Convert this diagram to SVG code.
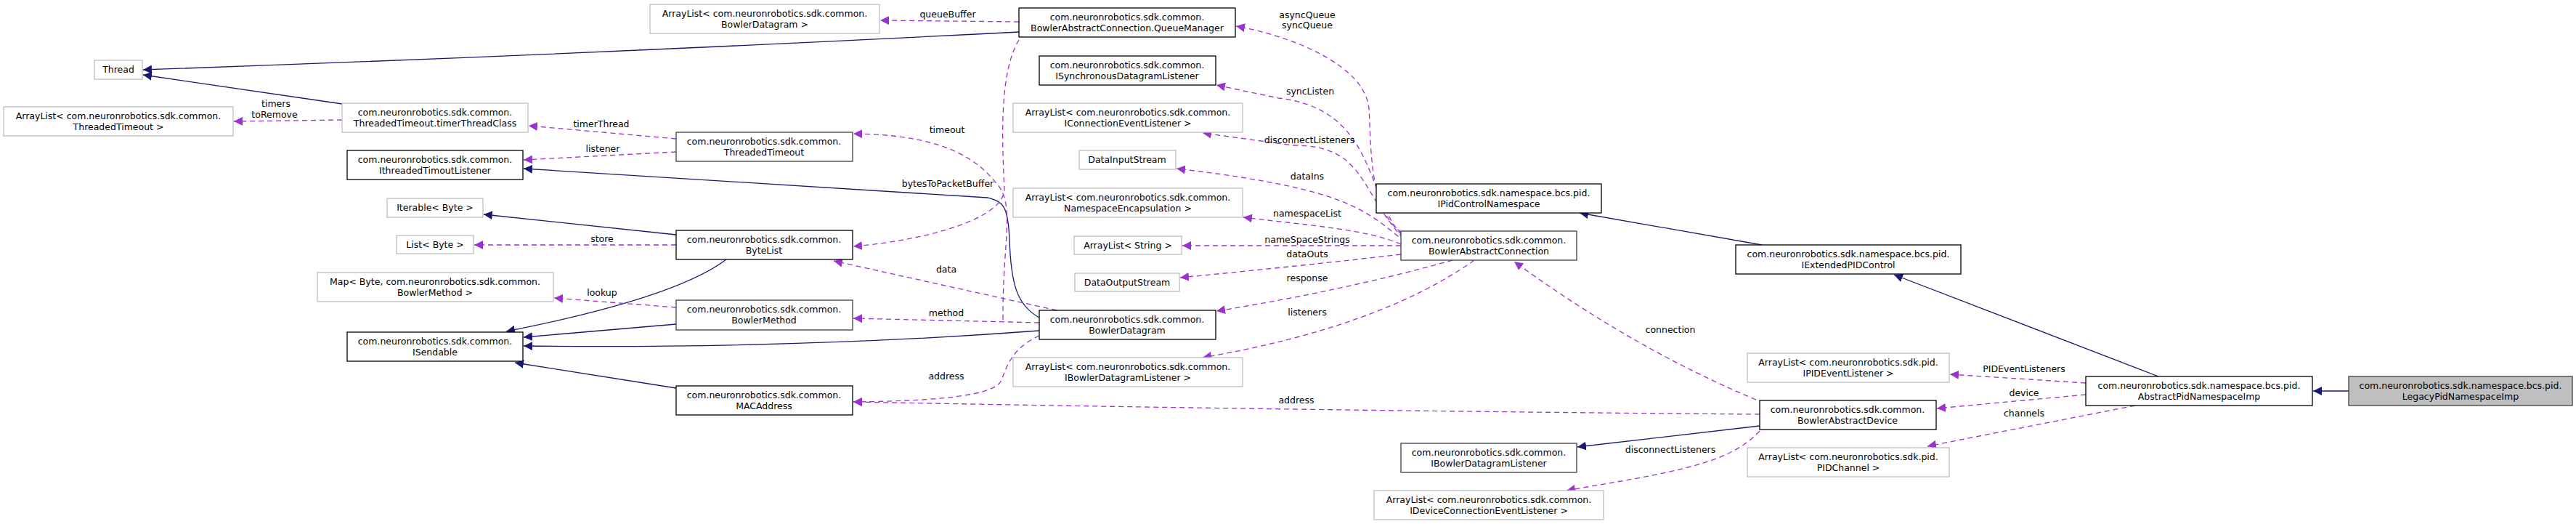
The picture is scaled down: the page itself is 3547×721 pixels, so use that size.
<svg xmlns="http://www.w3.org/2000/svg" width="3547" height="721" viewBox="0 0 3547 721">
<style>
text{font-family:"DejaVu Sans","Liberation Sans",sans-serif;font-size:12.5px;fill:#000;text-anchor:middle}
.n rect{fill:#fff;stroke:#000;stroke-width:1.3}
.n.d rect{stroke:#404040}
.n.x rect{stroke:#bfbfbf}
.n.me rect{fill:#bfbfbf;stroke:#404040}
.i{fill:none;stroke:#191970;stroke-width:1.3}
.u{fill:none;stroke:#9a32cd;stroke-width:1.3;stroke-dasharray:7,5}
</style>
<defs>
<marker id="ai" viewBox="0 0 10 10" refX="10" refY="5" markerWidth="12" markerHeight="12" markerUnits="userSpaceOnUse" orient="auto"><path d="M0,0L10,5L0,10z" fill="#191970"/></marker>
<marker id="au" viewBox="0 0 10 10" refX="10" refY="5" markerWidth="12" markerHeight="12" markerUnits="userSpaceOnUse" orient="auto"><path d="M0,0L10,5L0,10z" fill="#9a32cd"/></marker>
</defs>
<rect width="3547" height="721" fill="#fff"/>
<g id="connectors">
<path class="i" marker-end="url(#ai)" d="M1403,44 Q800,75 197,96"/>
<path class="i" marker-end="url(#ai)" d="M471,143 L197,103"/>
<path class="i" marker-end="url(#ai)" d="M1431,437 C1400,420 1392,390 1390,330 C1388,280 1380,278 1360,272 L721,232"/>
<path class="i" marker-end="url(#ai)" d="M931,323 L666,295"/>
<path class="i" marker-end="url(#ai)" d="M1000,357 Q930,410 697,456"/>
<path class="i" marker-end="url(#ai)" d="M931,446 L721,464"/>
<path class="i" marker-end="url(#ai)" d="M1431,455 Q1100,480 721,476"/>
<path class="i" marker-end="url(#ai)" d="M931,534 L709,499"/>
<path class="i" marker-end="url(#ai)" d="M2972,518 L2608,378"/>
<path class="i" marker-end="url(#ai)" d="M2426,337 L2175,293"/>
<path class="i" marker-end="url(#ai)" d="M2423,586 L2172,615"/>
<path class="i" style="stroke:#5050a0;stroke-width:2" marker-end="url(#ai)" d="M3234,538 L3185,538"/>
<path class="u" marker-end="url(#au)" d="M1403,30 L1212,28"/>
<path class="u" marker-end="url(#au)" d="M471,165 L322,167"/>
<path class="u" marker-end="url(#au)" d="M931,191 L728,173"/>
<path class="u" marker-end="url(#au)" d="M931,209 L721,220"/>
<path class="u" marker-end="url(#au)" d="M931,337 L653,337"/>
<path class="u" marker-end="url(#au)" d="M931,423 L763,410"/>
<path class="u" marker-end="url(#au)" d="M1455,427 L1148,359"/>
<path class="u" marker-end="url(#au)" d="M1431,444 L1175,438"/>
<path class="u" marker-end="url(#au)" d="M1431,462 C1390,480 1385,510 1378,525 C1365,548 1260,552 1175,553"/>
<path class="u" marker-end="url(#au)" d="M2423,570 Q1800,565 1175,553"/>
<path class="u" marker-end="url(#au)" d="M1381,440 C1380,330 1400,280 1370,250 C1330,200 1260,185 1175,184"/>
<path class="u" marker-end="url(#au)" d="M1403,55 C1375,100 1380,200 1383,260 C1383,300 1280,330 1175,339"/>
<path class="u" marker-end="url(#au)" d="M1930,320 C1885,290 1888,200 1885,150 C1880,90 1780,50 1702,36"/>
<path class="u" marker-end="url(#au)" d="M1930,323 C1880,270 1895,150 1760,135 L1675,117"/>
<path class="u" marker-end="url(#au)" d="M1932,328 C1870,260 1880,200 1780,200 L1656,183"/>
<path class="u" marker-end="url(#au)" d="M1935,333 C1880,290 1860,260 1620,232"/>
<path class="u" marker-end="url(#au)" d="M1929,336 C1880,315 1800,310 1712,299"/>
<path class="u" marker-end="url(#au)" d="M1929,338 L1628,338"/>
<path class="u" marker-end="url(#au)" d="M1929,350 Q1800,365 1625,382"/>
<path class="u" marker-end="url(#au)" d="M2000,358 Q1850,400 1675,428"/>
<path class="u" marker-end="url(#au)" d="M2030,358 Q1900,450 1656,492"/>
<path class="u" marker-end="url(#au)" d="M2418,550 Q2250,480 2085,360"/>
<path class="u" marker-end="url(#au)" d="M2423,593 C2380,640 2300,650 2157,675"/>
<path class="u" marker-end="url(#au)" d="M2872,527 L2685,515"/>
<path class="u" marker-end="url(#au)" d="M2872,543 L2667,562"/>
<path class="u" marker-end="url(#au)" d="M2940,558 L2654,614"/>
</g>
<g id="edge-labels">
<text x="1305" y="24">queueBuffer</text>
<text x="380" y="147">timers</text>
<text x="378" y="162">toRemove</text>
<text x="828" y="175">timerThread</text>
<text x="830" y="209">listener</text>
<text x="829" y="333">store</text>
<text x="829" y="407">lookup</text>
<text x="1303" y="375">data</text>
<text x="1303" y="435">method</text>
<text x="1303" y="522">address</text>
<text x="1785" y="555">address</text>
<text x="1304" y="183">timeout</text>
<text x="1305" y="257">bytesToPacketBuffer</text>
<text x="1800" y="25">asyncQueue</text>
<text x="1800" y="39">syncQueue</text>
<text x="1804" y="130">syncListen</text>
<text x="1803" y="197">disconnectListeners</text>
<text x="1800" y="247">dataIns</text>
<text x="1800" y="298">namespaceList</text>
<text x="1800" y="334">nameSpaceStrings</text>
<text x="1800" y="354">dataOuts</text>
<text x="1800" y="387">response</text>
<text x="1800" y="434">listeners</text>
<text x="2300" y="458">connection</text>
<text x="2300" y="623">disconnectListeners</text>
<text x="2787" y="512">PIDEventListeners</text>
<text x="2787" y="545">device</text>
<text x="2787" y="573">channels</text>
</g>
<g id="n-thread" class="n x"><rect x="130" y="83" width="66" height="26"/><text x="163" y="100">Thread</text></g>
<g id="n-al-tt" class="n x"><rect x="5" y="147" width="316" height="40"/><text x="163" y="164">ArrayList&lt; com.neuronrobotics.sdk.common.</text><text x="163" y="179">ThreadedTimeout &gt;</text></g>
<g id="n-ttc" class="n x"><rect x="471" y="142" width="256" height="40"/><text x="599" y="159">com.neuronrobotics.sdk.common.</text><text x="599" y="174">ThreadedTimeout.timerThreadClass</text></g>
<g id="n-itl" class="n"><rect x="478" y="207" width="242" height="40"/><text x="599" y="224">com.neuronrobotics.sdk.common.</text><text x="599" y="239">IthreadedTimoutListener</text></g>
<g id="n-iter" class="n x"><rect x="533" y="273" width="132" height="26"/><text x="599" y="290">Iterable&lt; Byte &gt;</text></g>
<g id="n-list" class="n x"><rect x="546" y="324" width="106" height="25"/><text x="599" y="341">List&lt; Byte &gt;</text></g>
<g id="n-map" class="n x"><rect x="437" y="375" width="325" height="40"/><text x="599" y="392">Map&lt; Byte, com.neuronrobotics.sdk.common.</text><text x="599" y="407">BowlerMethod &gt;</text></g>
<g id="n-isend" class="n"><rect x="478" y="457" width="242" height="40"/><text x="599" y="474">com.neuronrobotics.sdk.common.</text><text x="599" y="489">ISendable</text></g>
<g id="n-tt" class="n d"><rect x="931" y="182" width="243" height="40"/><text x="1052" y="199">com.neuronrobotics.sdk.common.</text><text x="1052" y="214">ThreadedTimeout</text></g>
<g id="n-bytelist" class="n"><rect x="931" y="317" width="243" height="40"/><text x="1052" y="334">com.neuronrobotics.sdk.common.</text><text x="1052" y="349">ByteList</text></g>
<g id="n-bm" class="n d"><rect x="931" y="413" width="243" height="41"/><text x="1052" y="430">com.neuronrobotics.sdk.common.</text><text x="1052" y="445">BowlerMethod</text></g>
<g id="n-mac" class="n"><rect x="931" y="531" width="243" height="40"/><text x="1052" y="548">com.neuronrobotics.sdk.common.</text><text x="1052" y="563">MACAddress</text></g>
<g id="n-al-bd" class="n x"><rect x="895" y="6" width="316" height="40"/><text x="1053" y="23">ArrayList&lt; com.neuronrobotics.sdk.common.</text><text x="1053" y="38">BowlerDatagram &gt;</text></g>
<g id="n-qm" class="n"><rect x="1403" y="11" width="298" height="40"/><text x="1552" y="28">com.neuronrobotics.sdk.common.</text><text x="1552" y="43">BowlerAbstractConnection.QueueManager</text></g>
<g id="n-isdl" class="n"><rect x="1431" y="77" width="243" height="40"/><text x="1552" y="94">com.neuronrobotics.sdk.common.</text><text x="1552" y="109">ISynchronousDatagramListener</text></g>
<g id="n-al-icel" class="n x"><rect x="1395" y="142" width="316" height="40"/><text x="1553" y="159">ArrayList&lt; com.neuronrobotics.sdk.common.</text><text x="1553" y="174">IConnectionEventListener &gt;</text></g>
<g id="n-dis" class="n x"><rect x="1486" y="207" width="133" height="26"/><text x="1552" y="224">DataInputStream</text></g>
<g id="n-al-ne" class="n x"><rect x="1395" y="259" width="316" height="40"/><text x="1553" y="276">ArrayList&lt; com.neuronrobotics.sdk.common.</text><text x="1553" y="291">NamespaceEncapsulation &gt;</text></g>
<g id="n-al-str" class="n x"><rect x="1479" y="325" width="148" height="25"/><text x="1553" y="342">ArrayList&lt; String &gt;</text></g>
<g id="n-dos" class="n x"><rect x="1480" y="376" width="144" height="25"/><text x="1552" y="393">DataOutputStream</text></g>
<g id="n-bd" class="n"><rect x="1431" y="427" width="243" height="40"/><text x="1552" y="444">com.neuronrobotics.sdk.common.</text><text x="1552" y="459">BowlerDatagram</text></g>
<g id="n-al-ibdl" class="n x"><rect x="1395" y="492" width="316" height="40"/><text x="1553" y="509">ArrayList&lt; com.neuronrobotics.sdk.common.</text><text x="1553" y="524">IBowlerDatagramListener &gt;</text></g>
<g id="n-ipcn" class="n"><rect x="1895" y="253" width="310" height="40"/><text x="2050" y="270">com.neuronrobotics.sdk.namespace.bcs.pid.</text><text x="2050" y="285">IPidControlNamespace</text></g>
<g id="n-bac" class="n d"><rect x="1929" y="318" width="242" height="40"/><text x="2050" y="335">com.neuronrobotics.sdk.common.</text><text x="2050" y="350">BowlerAbstractConnection</text></g>
<g id="n-ibdl" class="n d"><rect x="1929" y="610" width="242" height="40"/><text x="2050" y="627">com.neuronrobotics.sdk.common.</text><text x="2050" y="642">IBowlerDatagramListener</text></g>
<g id="n-al-idcel" class="n x"><rect x="1892" y="675" width="316" height="40"/><text x="2050" y="692">ArrayList&lt; com.neuronrobotics.sdk.common.</text><text x="2050" y="707">IDeviceConnectionEventListener &gt;</text></g>
<g id="n-iepc" class="n"><rect x="2390" y="337" width="310" height="40"/><text x="2545" y="354">com.neuronrobotics.sdk.namespace.bcs.pid.</text><text x="2545" y="369">IExtendedPIDControl</text></g>
<g id="n-al-ipel" class="n x"><rect x="2406" y="486" width="278" height="40"/><text x="2545" y="503">ArrayList&lt; com.neuronrobotics.sdk.pid.</text><text x="2545" y="518">IPIDEventListener &gt;</text></g>
<g id="n-bad" class="n"><rect x="2423" y="551" width="243" height="40"/><text x="2544" y="568">com.neuronrobotics.sdk.common.</text><text x="2544" y="583">BowlerAbstractDevice</text></g>
<g id="n-al-pc" class="n x"><rect x="2406" y="616" width="278" height="40"/><text x="2545" y="633">ArrayList&lt; com.neuronrobotics.sdk.pid.</text><text x="2545" y="648">PIDChannel &gt;</text></g>
<g id="n-apni" class="n"><rect x="2872" y="518" width="312" height="40"/><text x="3028" y="535">com.neuronrobotics.sdk.namespace.bcs.pid.</text><text x="3028" y="550">AbstractPidNamespaceImp</text></g>
<g id="n-legacy" class="n me"><rect x="3234" y="518" width="308" height="40"/><text x="3388" y="535">com.neuronrobotics.sdk.namespace.bcs.pid.</text><text x="3388" y="550">LegacyPidNamespaceImp</text></g>
</svg>
